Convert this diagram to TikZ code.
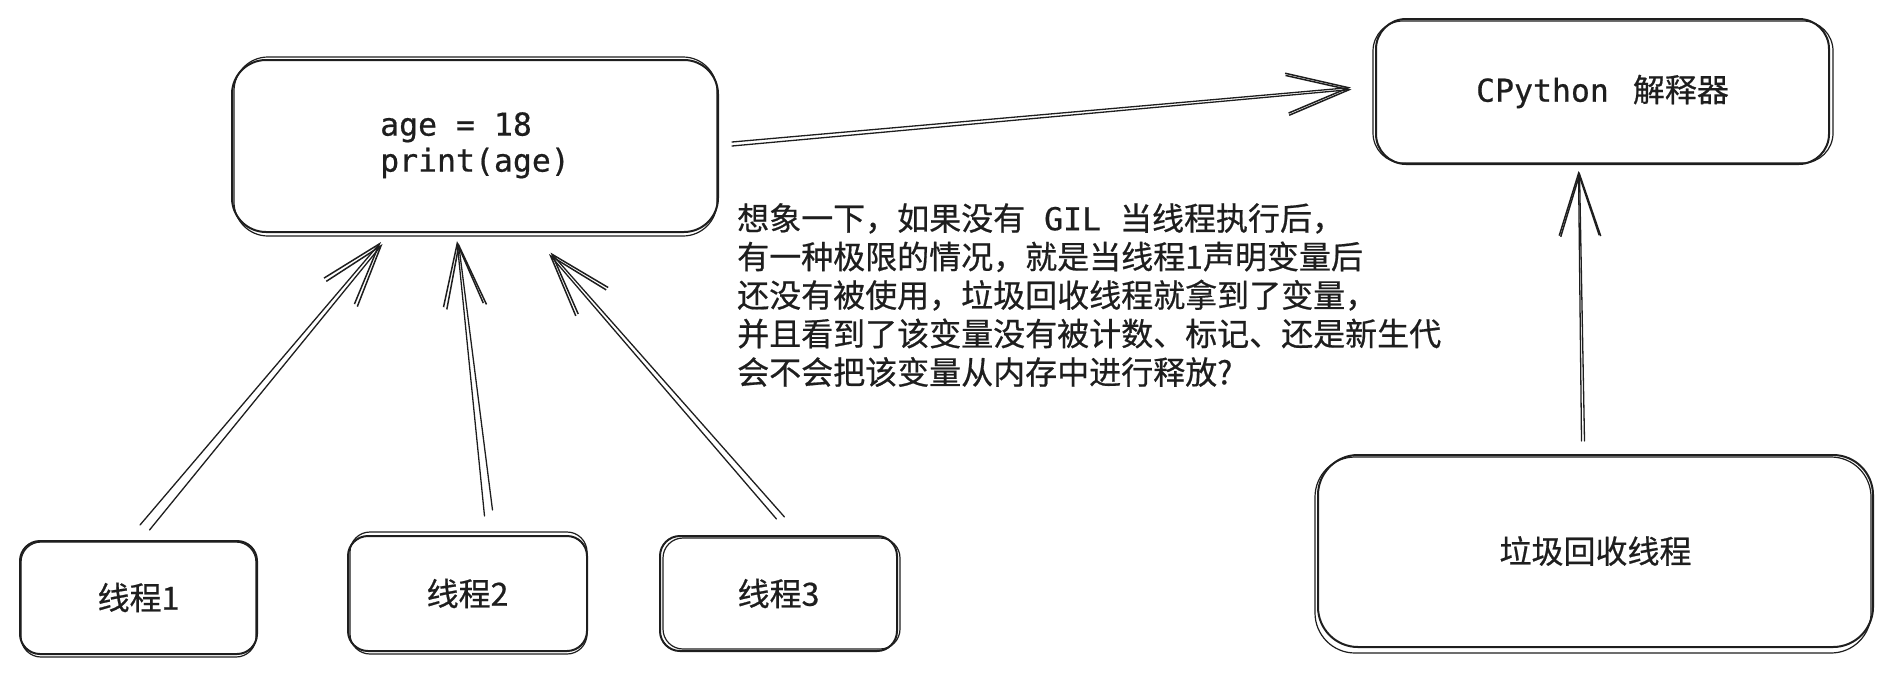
\documentclass[tikz,border=0pt]{standalone}
\usepackage{fontspec}
\setmainfont{Noto Sans CJK SC}[FakeBold=0.6]
\newfontfamily\codefont{DejaVu Sans Mono}[FakeBold=0.6]
\usetikzlibrary{arrows.meta,calc}
\definecolor{ink}{HTML}{1E1E1E}
\begin{document}
\begin{tikzpicture}[x=1pt,y=-1pt,
  line join=round, line cap=round,
  every node/.style={text=ink},
  box/.style={draw=ink, line width=2pt, rounded corners=#1, inner sep=0pt,
    font=\fontsize{32}{38}\selectfont, align=center},
  box/.default=28pt,
  boxb/.style={draw=ink, line width=1.2pt, rounded corners=#1},
  boxb/.default=28pt,
  arr/.style={draw=ink, line width=1.3pt,
    -{Straight Barb[length=62pt,width=40pt,line width=1.5pt]}},
  txt/.style={inner sep=0pt, align=left, font=\fontsize{32}{38.5}\selectfont}]
\useasboundingbox (0,0) rectangle (1889,673);

% boxes
\node[box=34pt, minimum width=486pt, minimum height=172pt] (code) at (475,146)
  {\begin{tabular}{@{}l@{}}\codefont\fontsize{31.5}{38}\selectfont age = 18\\[-2pt]
   \codefont\fontsize{31.5}{38}\selectfont print(age)\end{tabular}};
\draw[boxb=34pt] ($(code.north west)+(3,-2)$) rectangle ($(code.south east)+(-2,3)$);

\node[box=30pt, minimum width=453pt, minimum height=145pt] (cp) at (1602.5,91.5)
  {{\codefont\fontsize{31.5}{38}\selectfont CPython}\hspace{24pt}解释器};
\draw[boxb=30pt] ($(cp.north west)+(-2,3)$) rectangle ($(cp.south east)+(3,-2)$);

\node[box=20pt, minimum width=237pt, minimum height=113pt] (t1) at (138.5,597.5) {线程1};
\draw[boxb=20pt] ($(t1.north west)+(2,2)$) rectangle ($(t1.south east)+(-2,2)$);

\node[box=20pt, minimum width=239pt, minimum height=115pt] (t2) at (467.5,593.5) {线程2};
\draw[boxb=20pt] ($(t2.north west)+(3,-3)$) rectangle ($(t2.south east)+(-1,2)$);

\node[box=20pt, minimum width=237pt, minimum height=115pt] (t3) at (778.5,593.5) {线程3};
\draw[boxb=20pt] ($(t3.north west)+(4,3)$) rectangle ($(t3.south east)+(2,-3)$);

\node[box=40pt, minimum width=555pt, minimum height=192pt] (gc) at (1595.5,551) {垃圾回收线程};
\draw[boxb=40pt] ($(gc.north west)+(-2,3)$) rectangle ($(gc.south east)+(-3,5)$);

% note text
\node[txt, anchor=north west] (note) at (737,203)
  {想象一下，如果没有{\codefont\fontsize{31.5}{38}\selectfont\ GIL\ }当线程执行后，\\
   有一种极限的情况，就是当线程1声明变量后\\
   还没有被使用，垃圾回收线程就拿到了变量，\\
   并且看到了该变量没有被计数、标记、还是新生代\\
   会不会把该变量从内存中进行释放?};

% connectors
\draw[arr] ($(t1.north)+(1.5,-15)$) -- ($(code.south)+(-94,9)$);
\draw[arr] ($(t1.north)+(11,-10)$) -- ($(code.south)+(-92.5,11)$);

\draw[arr] ($(t2.north)+(17,-19)$) -- ($(code.south)+(-18,8)$);
\draw[arr] ($(t2.north)+(25,-25)$) -- ($(code.south)+(-16.5,10)$);

\draw[arr] ($(t3.north)+(-2,-16)$) -- ($(code.south)+(74,21)$);
\draw[arr] ($(t3.north)+(6,-18)$) -- ($(code.south)+(75.5,19.5)$);

\draw[arr] ($(code.east)+(13,-4)$) -- ($(cp.west)+(-24,-4)$);
\draw[arr] ($(code.east)+(13,0)$) -- ($(cp.west)+(-23.5,-2)$);

\draw[arr] ($(gc.north)+(-14,-13)$) -- ($(cp.south)+(-24,6)$);
\draw[arr] ($(gc.north)+(-11,-13)$) -- ($(cp.south)+(-23,7)$);
\end{tikzpicture}
\end{document}
